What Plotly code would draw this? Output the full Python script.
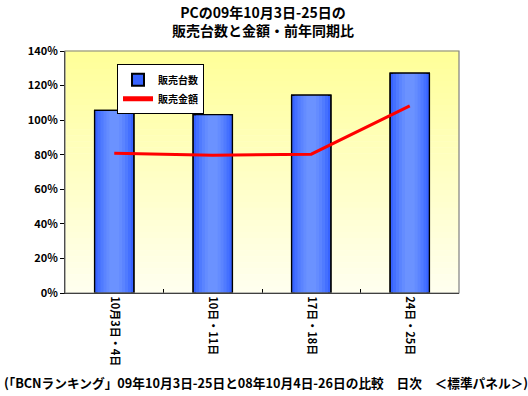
import plotly.graph_objects as go

categories = ["10月3日・4日", "10日・11日", "17日・18日", "24日・25日"]
units_ratio = [1.057, 1.032, 1.145, 1.272]
sales_ratio = [0.808, 0.797, 0.803, 1.082]
y_ticks = [0, 0.2, 0.4, 0.6, 0.8, 1.0, 1.2, 1.4]

title_text = "PCの09年10月3日-25日の<br>販売台数と金額・前年同期比"
footer_text = "(「BCNランキング」09年10月3日-25日と08年10月4日-26日の比較　日次　＜標準パネル＞)"

FONT = "Noto Sans CJK JP"

fig = go.Figure()

# bar gradient (overlaid layers, darker edges, lighter centre)
layers = [
    (0.40, "#3763FF"),
    (0.34, "#4470FF"),
    (0.28, "#507BFF"),
    (0.22, "#5B84FF"),
    (0.16, "#648CFF"),
    (0.10, "#6B92FF"),
]
for i, (w, c) in enumerate(layers):
    fig.add_trace(go.Bar(
        x=categories, y=units_ratio, width=w,
        marker=dict(color=c, line=dict(color="black", width=1.2 if i == 0 else 0)),
        name="販売台数", showlegend=(i == 0), hoverinfo="skip" if i else None,
    ))
# outline on top
fig.add_trace(go.Bar(
    x=categories, y=units_ratio, width=0.40,
    marker=dict(color="rgba(0,0,0,0)", line=dict(color="black", width=1.2)),
    showlegend=False, hoverinfo="skip",
))

fig.add_trace(go.Scatter(
    x=categories, y=sales_ratio, mode="lines", name="販売金額",
    line=dict(color="#FF0000", width=3),
))

# gradient plot background
n = 40
top = (255, 255, 153)
bot = (255, 255, 238)
shapes = []
for k in range(n):
    t = k / (n - 1)
    r = round(top[0] + (bot[0] - top[0]) * t)
    g = round(top[1] + (bot[1] - top[1]) * t)
    b = round(top[2] + (bot[2] - top[2]) * t)
    shapes.append(dict(
        type="rect", xref="x domain", yref="y domain",
        x0=0, x1=1, y0=1 - (k + 1) / n, y1=1 - k / n + 0.002,
        fillcolor=f"rgb({r},{g},{b})", line=dict(width=0), layer="below",
    ))
shapes.append(dict(type="rect", xref="x domain", yref="y domain", x0=0, x1=1, y0=0, y1=1,
                   line=dict(color="#808080", width=1.2), fillcolor="rgba(0,0,0,0)", layer="above"))

fig.update_layout(
    width=528, height=396,
    margin=dict(l=65, r=69, t=51, b=103, autoexpand=False),
    paper_bgcolor="white", plot_bgcolor="rgba(0,0,0,0)",
    barmode="overlay",
    shapes=shapes,
    font=dict(family=FONT, color="black", size=11),
    showlegend=True,
    legend=dict(x=0.132, y=0.945, xanchor="left", yanchor="top",
                bgcolor="white", bordercolor="black", borderwidth=1,
                font=dict(family=FONT, size=10, weight="bold"),
                traceorder="normal", tracegroupgap=0, itemwidth=30,
                itemsizing="constant"),
    xaxis=dict(
        type="category", tickangle=90, showgrid=False, automargin=False,
        showline=True, linecolor="black", linewidth=1,
        ticks="inside", tickson="boundaries", ticklen=4, tickcolor="black",
        tickfont=dict(family=FONT, size=11, weight="bold"),
        range=[-0.5, 3.5],
    ),
    yaxis=dict(
        range=[0, 1.4], tickvals=y_ticks, tickformat=".0%", showgrid=False,
        automargin=False,
        showline=True, linecolor="black", linewidth=1,
        ticks="outside", ticklen=4, tickcolor="black", zeroline=False,
        tickfont=dict(family=FONT, size=11, weight="bold"),
    ),
    annotations=[
        dict(text=title_text, xref="paper", yref="paper",
             x=0.503, y=1 + (51 - 21) / 242, xanchor="center", yanchor="middle",
             showarrow=False, font=dict(family=FONT, size=14, color="black", weight="bold")),
        dict(text=footer_text, xref="paper", yref="paper",
             x=-0.16, y=-(383 - 293) / 242, xanchor="left", yanchor="middle",
             showarrow=False, font=dict(family=FONT, size=12.7, color="black", weight="bold")),
    ],
)

fig.write_html("out.html", config={"displayModeBar": False},
               post_script="document.body.style.margin='0';")
